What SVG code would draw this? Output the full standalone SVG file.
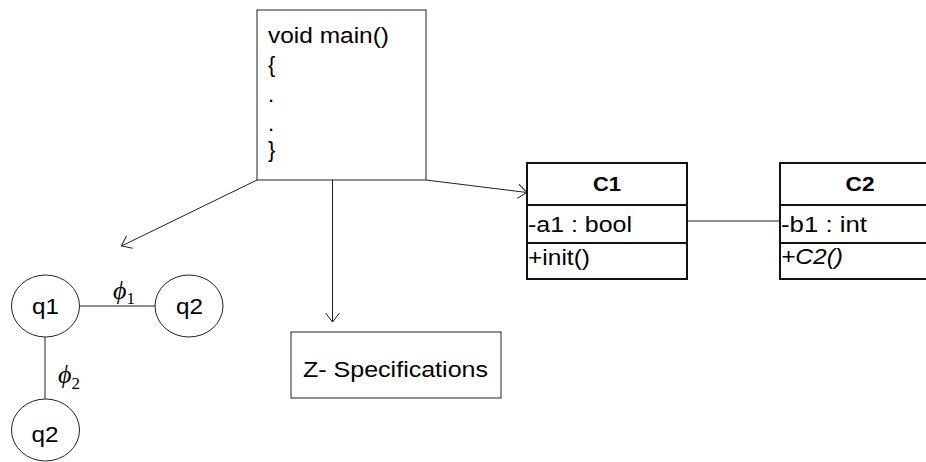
<svg xmlns="http://www.w3.org/2000/svg" width="926" height="462" viewBox="0 0 926 462">
  <defs>
    <style>
      .box { fill: #fff; stroke: #222; stroke-width: 1; }
      .cls { fill: #fff; stroke: #111; stroke-width: 2; }
      .edge { fill: none; stroke: #222; stroke-width: 1; }
      .t { font-family: "Liberation Sans", Arial, sans-serif; font-size: 22px; fill: #000; }
      .hd { font-family: "Liberation Sans", Arial, sans-serif; font-size: 20px; font-weight: bold; fill: #000; }
      .it { font-style: italic; }
      .phi { font-family: "Liberation Serif", "DejaVu Serif", serif; font-style: italic; font-size: 26px; fill: #000; }
      .sub { font-family: "Liberation Serif", "DejaVu Serif", serif; font-size: 17px; fill: #000; }
    </style>
    <marker id="open" markerUnits="userSpaceOnUse" markerWidth="20" markerHeight="20" refX="10" refY="10" orient="auto" viewBox="0 0 20 20">
      <path d="M1,3 L10,10 L1,17" fill="none" stroke="#222" stroke-width="1"/>
    </marker>
  </defs>
  <rect width="926" height="462" fill="#fff"/>

  <!-- connectors -->
  <g id="connectors">
    <line class="edge" x1="257" y1="180" x2="121.5" y2="246" marker-end="url(#open)"/>
    <line class="edge" x1="332.5" y1="180" x2="332.5" y2="322" marker-end="url(#open)"/>
    <line class="edge" x1="426" y1="180" x2="527" y2="192.5" marker-end="url(#open)"/>
    <line class="edge" x1="687" y1="221" x2="780" y2="221" stroke-width="1.5"/>
    <line class="edge" x1="79" y1="306" x2="155" y2="306"/>
    <line class="edge" x1="45" y1="337" x2="45" y2="399"/>
  </g>

  <!-- main program box -->
  <g id="main">
    <rect class="box" x="257" y="10" width="169" height="170"/>
    <text class="t" x="268" y="43" textLength="121" lengthAdjust="spacingAndGlyphs">void main()</text>
    <text class="t" x="268" y="72">{</text>
    <text class="t" x="268" y="102">.</text>
    <text class="t" x="268" y="131">.</text>
    <text class="t" x="268" y="157">}</text>
  </g>

  <!-- Z specifications -->
  <g id="zspec">
    <rect class="box" x="291" y="332" width="210" height="66"/>
    <text class="t" x="303" y="377" textLength="185" lengthAdjust="spacingAndGlyphs">Z- Specifications</text>
  </g>

  <!-- class C1 -->
  <g id="c1">
    <rect class="cls" x="527" y="163" width="160" height="116"/>
    <line class="cls" x1="527" y1="205" x2="687" y2="205"/>
    <line class="cls" x1="527" y1="243" x2="687" y2="243"/>
    <text class="hd" x="607" y="191" text-anchor="middle" textLength="28" lengthAdjust="spacingAndGlyphs">C1</text>
    <text class="t" x="528" y="232" textLength="104" lengthAdjust="spacingAndGlyphs">-a1 : bool</text>
    <text class="t" x="528" y="265" textLength="62" lengthAdjust="spacingAndGlyphs">+init()</text>
  </g>

  <!-- class C2 -->
  <g id="c2">
    <rect class="cls" x="780" y="163" width="160" height="116"/>
    <line class="cls" x1="780" y1="205" x2="940" y2="205"/>
    <line class="cls" x1="780" y1="243" x2="940" y2="243"/>
    <text class="hd" x="860" y="191" text-anchor="middle" textLength="29" lengthAdjust="spacingAndGlyphs">C2</text>
    <text class="t" x="781" y="232" textLength="86" lengthAdjust="spacingAndGlyphs">-b1 : int</text>
    <text class="t it" x="781" y="264" textLength="62" lengthAdjust="spacingAndGlyphs">+C2()</text>
  </g>

  <!-- states -->
  <g id="q1">
    <ellipse class="box" cx="45.5" cy="306" rx="34" ry="31"/>
    <text class="t" x="45.5" y="314" text-anchor="middle" textLength="27" lengthAdjust="spacingAndGlyphs">q1</text>
  </g>
  <g id="q2a">
    <ellipse class="box" cx="189" cy="306" rx="34" ry="31"/>
    <text class="t" x="189.5" y="314" text-anchor="middle" textLength="27" lengthAdjust="spacingAndGlyphs">q2</text>
  </g>
  <g id="q2b">
    <ellipse class="box" cx="45.5" cy="430" rx="34" ry="31"/>
    <text class="t" x="45" y="442" text-anchor="middle" textLength="27" lengthAdjust="spacingAndGlyphs">q2</text>
  </g>

  <!-- transition labels -->
  <g id="labels">
    <text x="113" y="299"><tspan class="phi">ϕ</tspan><tspan class="sub" dy="5">1</tspan></text>
    <text x="58" y="383"><tspan class="phi">ϕ</tspan><tspan class="sub" dy="6">2</tspan></text>
  </g>
</svg>
